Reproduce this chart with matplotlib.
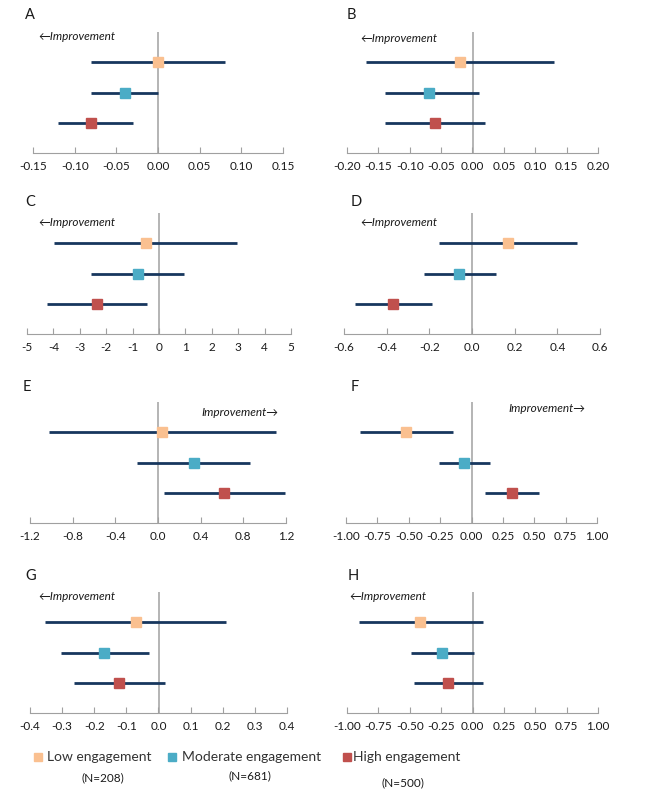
import matplotlib
matplotlib.use("Agg")
import matplotlib.pyplot as plt
import numpy as np
from matplotlib.patches import Rectangle

plt.rcParams['font.family'] = ['Lato', 'DejaVu Sans']

# Значення: оцінка та довірчі межі для кожної групи (Low, Moderate, High)
panels = ["A", "B", "C", "D", "E", "F", "G", "H"]
low_est = [0.00, -0.02, -0.50, 0.17, 0.04, -0.52, -0.07, -0.415]
low_lo = [-0.08, -0.17, -3.97, -0.155, -1.02, -0.89, -0.354, -0.905]
low_hi = [0.08, 0.13, 2.97, 0.49, 1.11, -0.15, 0.21, 0.085]
mod_est = [-0.04, -0.07, -0.81, -0.062, 0.335, -0.06, -0.171, -0.242]
mod_lo = [-0.08, -0.14, -2.58, -0.225, -0.197, -0.257, -0.303, -0.487]
mod_hi = [0.00, 0.01, 0.96, 0.114, 0.86, 0.146, -0.03, 0.013]
high_est = [-0.08, -0.06, -2.36, -0.372, 0.623, 0.323, -0.122, -0.194]
high_lo = [-0.12, -0.14, -4.26, -0.547, 0.056, 0.106, -0.264, -0.468]
high_hi = [-0.03, 0.02, -0.46, -0.1875, 1.195, 0.538, 0.02, 0.085]

x_lims = [0.15, 0.20, 5, 0.6, 1.2, 1.0, 0.4, 1.0]
x_steps = [0.05, 0.05, 1, 0.2, 0.4, 0.25, 0.1, 0.25]
x_decimals = [2, 2, 0, 1, 1, 2, 1, 2]
improve_right = [False, False, False, False, True, True, False, False]

groups = ["Low engagement", "Moderate engagement", "High engagement"]
group_n = ["(N=208)", "(N=681)", "(N=500)"]
colors = ["#FAC090", "#4BACC6", "#C0504D"]
ci_color = "#17375E"
grey = "#A0A0A0"

W, H = 666, 799
fig = plt.figure(figsize=(W / 100, H / 100), dpi=100)

def fx(px):
    return px / W

def fy(py):
    return 1 - py / H

# Положення панелей у пікселях: ліво, право, низ
boxes = [(33, 283, 153), (347, 598, 153),
         (27, 291, 334), (344, 600, 334),
         (30, 286, 523), (346, 597, 523),
         (30, 287, 713), (347, 598, 713)]
label_pos = [(25, 15), (347, 15), (25, 202), (351, 202),
             (23, 387), (351, 387), (25, 576), (348, 576)]
improve_pos = [(38, 37), (360, 39), (38, 222), (360, 222),
               (278, 413), (585, 409), (38, 597), (349, 597)]
ax_h = 121

def fmt(t, d):
    s = f"{t:.{d}f}"
    return s[1:] if s.startswith("-") and float(s) == 0 else s

for i, name in enumerate(panels):
    x0, x1, yb = boxes[i]
    ax = fig.add_axes([fx(x0), fy(yb), (x1 - x0) / W, ax_h / H])
    ests = [low_est[i], mod_est[i], high_est[i]]
    los = [low_lo[i], mod_lo[i], high_lo[i]]
    his = [low_hi[i], mod_hi[i], high_hi[i]]
    ypos = [3, 2, 1]
    ax.axvline(0, color=grey, lw=1.1, zorder=1)
    for k in range(3):
        ax.plot([los[k], his[k]], [ypos[k], ypos[k]], color=ci_color, lw=2.0,
                solid_capstyle='butt', zorder=2)
        ax.plot(ests[k], ypos[k], marker='s', ms=7.5, color=colors[k],
                mec=colors[k], zorder=3)
    lim = x_lims[i]
    ax.set_xlim(-lim, lim)
    ax.set_ylim(0, 4)
    ticks = np.arange(-lim, lim + x_steps[i] / 2, x_steps[i])
    ax.set_xticks(ticks)
    ax.set_xticklabels([fmt(t, x_decimals[i]) for t in ticks])
    ax.tick_params(axis='x', direction='in', length=4, color=grey, labelsize=8.5,
                   labelcolor="#1a1a1a", pad=6)
    ax.set_yticks([])
    for s in ['top', 'right', 'left']:
        ax.spines[s].set_visible(False)
    ax.spines['bottom'].set_color(grey)
    ax.patch.set_alpha(0)

    lx, ly = label_pos[i]
    fig.text(fx(lx), fy(ly), name, fontsize=10.5, ha='left', va='center', color="#1a1a1a")
    ix, iy = improve_pos[i]
    if improve_right[i]:
        fig.text(fx(ix), fy(iy), "Improvement\u2192", fontsize=8.5, style='italic',
                 ha='right', va='center', color="#1a1a1a")
    else:
        fig.text(fx(ix), fy(iy), "\u2190Improvement", fontsize=8.5, style='italic',
                 ha='left', va='center', color="#1a1a1a")

# Легенда
sq_x = [34, 168, 343]
txt_x = [47, 182, 353]
n_pos = [(103, 778), (250, 776), (403, 783)]
for k in range(3):
    fig.patches.append(Rectangle((fx(sq_x[k]), fy(761)), 8 / W, 8 / H,
                                 transform=fig.transFigure, color=colors[k]))
    fig.text(fx(txt_x[k]), fy(757), groups[k], fontsize=10, ha='left', va='center',
             color="#333333")
    fig.text(fx(n_pos[k][0]), fy(n_pos[k][1]), group_n[k], fontsize=8.5, ha='center',
             va='center', color="#1a1a1a")

fig.savefig("out.png", dpi=100)
